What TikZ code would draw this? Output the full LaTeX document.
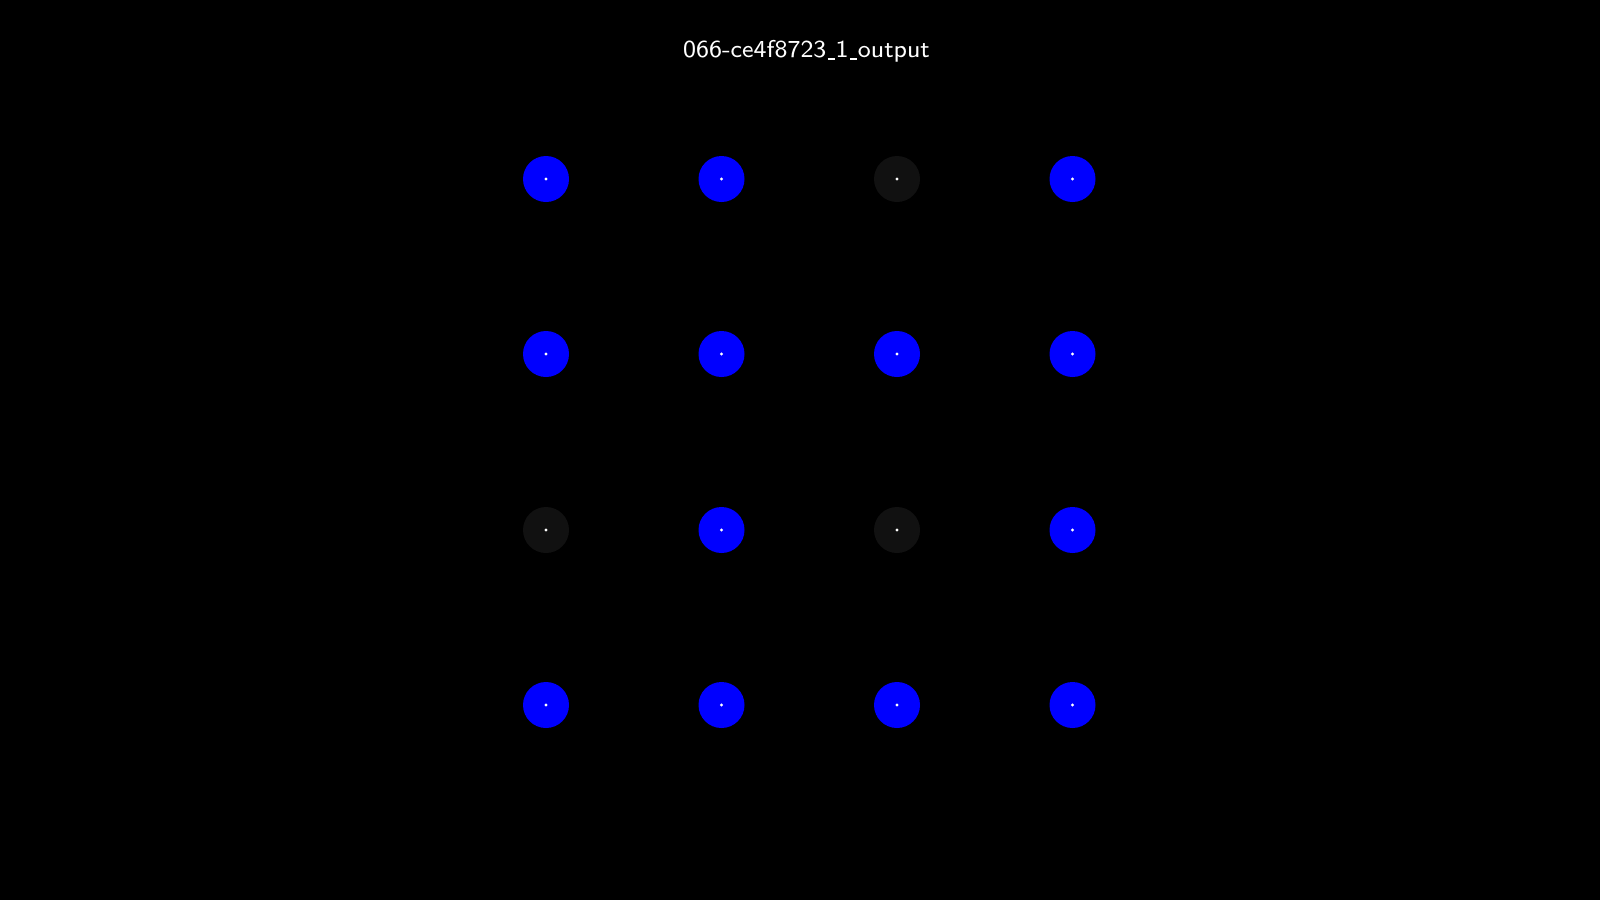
\documentclass[tikz,border=0pt]{standalone}
\usepackage{fontspec}
\newfontfamily\titlefont{lmsans8-regular}[Extension=.otf]
\newcommand{\lowbar}{\kern.06em\rule[-0.09em]{0.3em}{0.06em}\kern.02em}
\begin{document}
\begin{tikzpicture}[x=1pt, y=-1pt, every node/.style={circle, minimum size=46pt, inner sep=0pt, path picture={\fill[white] (path picture bounding box.center) circle (1.6pt);}}]

\tikzstyle{on}=[fill={rgb,255:red,0;green,0;blue,255}]
\tikzstyle{off}=[fill={rgb,255:red,17;green,17;blue,17}]

\fill[black] (0,0) rectangle (1600,900);
\useasboundingbox (0,0) rectangle (1600,900);

\node[rectangle, minimum size=0pt, path picture={}, text=white, anchor=base, font=\titlefont\fontsize{24.4}{29}\selectfont] (title) at (806.5,57.5) {066-ce4f8723\lowbar 1\lowbar output};

% row 1
\node[on]  (q11) at (546,179) {};
\node[on]  (q12) at (721.5,179) {};
\node[off] (q13) at (897,179) {};
\node[on]  (q14) at (1072.5,179) {};
% row 2
\node[on]  (q21) at (546,354) {};
\node[on]  (q22) at (721.5,354) {};
\node[on]  (q23) at (897,354) {};
\node[on]  (q24) at (1072.5,354) {};
% row 3
\node[off] (q31) at (546,530) {};
\node[on]  (q32) at (721.5,530) {};
\node[off] (q33) at (897,530) {};
\node[on]  (q34) at (1072.5,530) {};
% row 4
\node[on]  (q41) at (546,705) {};
\node[on]  (q42) at (721.5,705) {};
\node[on]  (q43) at (897,705) {};
\node[on]  (q44) at (1072.5,705) {};

\end{tikzpicture}
\end{document}
